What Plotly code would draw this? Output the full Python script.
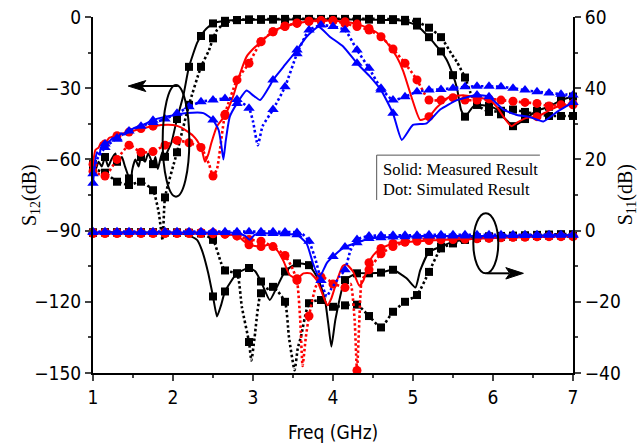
import plotly.graph_objects as go

# ---------------- data ----------------
freq_s12_meas_black = [1.0,1.03,1.07,1.11,1.15,1.19,1.23,1.28,1.3,1.36,1.4,1.45,1.47,1.49,1.53,1.57,1.6,1.65,1.69,1.75,1.78,1.81,1.84,1.87,1.9,1.94,1.98,2.05,2.13,2.2,2.3,2.35,2.4,2.5,2.65,2.8,2.95,3.1,3.25,3.4,3.55,3.7,3.85,4.0,4.15,4.3,4.45,4.6,4.75,4.9,5.05,5.2,5.3,5.35,5.42,5.5,5.55,5.6,5.65,5.75,5.8,5.95,6.05,6.1,6.17,6.25,6.36,6.4,6.55,6.7,6.85,7.0]
s12_meas_black = [-62,-64.5,-61,-63,-59,-63,-60,-57.5,-61,-59,-63,-68,-71.5,-64.5,-60,-63,-59,-61,-57.5,-62,-59,-64,-60,-56.8,-58.9,-56,-53,-43,-33,-21,-11,-8,-5.5,-2.7,-1.6,-1.3,-1.2,-1.2,-1.1,-1.1,-1.0,-1.0,-1.0,-1.0,-1.0,-1.1,-1.1,-1.2,-1.3,-1.8,-3.6,-8.5,-12.5,-14.5,-18,-24.5,-30,-39,-42,-37.8,-37,-37.5,-39,-41,-43.5,-46,-44,-43,-39.5,-37.8,-35,-33.5]

freq_s12_sim_black = [1.0,1.15,1.3,1.45,1.6,1.75,1.82,1.87,1.9,2.05,2.2,2.35,2.45,2.5,2.55,2.65,2.8,2.95,3.1,3.25,3.4,3.55,3.7,3.85,4.0,4.15,4.3,4.45,4.6,4.75,4.9,5.05,5.2,5.35,5.48,5.55,5.65,5.72,5.8,5.95,6.1,6.25,6.4,6.55,6.7,6.85,7.0]
s12_sim_black = [-64,-65.6,-69.4,-70.8,-69.4,-73,-82,-94,-76,-57,-37,-21,-14,-9,-5.5,-2.5,-1.3,-1.0,-0.9,-0.9,-0.8,-0.8,-0.8,-0.8,-0.8,-0.8,-0.8,-0.8,-0.8,-0.9,-1.2,-2.0,-4.5,-8.5,-15.5,-19,-25.5,-32,-37,-40,-39.5,-39,-40,-41,-41.7,-41.7,-41.7]

freq_s12_meas_red = [1.0,1.03,1.07,1.1,1.15,1.2,1.3,1.38,1.45,1.6,1.75,1.85,2.0,2.1,2.17,2.25,2.3,2.36,2.4,2.44,2.48,2.55,2.65,2.75,2.84,2.92,3.0,3.1,3.25,3.4,3.55,3.7,3.85,4.0,4.15,4.3,4.45,4.59,4.7,4.8,4.88,4.98,5.09,5.2,5.3,5.46,5.63,5.8,5.96,6.05,6.13,6.23,6.3,6.42,6.55,6.67,6.8,7.0]
s12_meas_red = [-62,-56,-55,-53,-53.5,-51,-50,-49,-48.5,-47,-46,-45.5,-45.5,-46.5,-48,-50,-52,-56,-61,-58,-53,-46,-41.5,-33.6,-23.7,-16.7,-13.5,-10.4,-6.2,-3.8,-2.7,-1.8,-1.5,-1.6,-2.0,-3.0,-4.8,-7.6,-12,-17,-23,-33.6,-43.4,-42,-38,-33.6,-33,-34,-35,-38,-42,-46,-44.5,-42.5,-42,-40,-37.8,-37]

freq_s12_sim_red = [1.0,1.15,1.3,1.45,1.6,1.75,1.9,2.05,2.2,2.35,2.45,2.5,2.55,2.65,2.8,2.95,3.1,3.25,3.4,3.55,3.7,3.85,4.0,4.15,4.3,4.45,4.6,4.75,4.9,5.05,5.2,5.35,5.5,5.65,5.8,5.95,6.1,6.25,6.4,6.55,6.7,6.85,7.0]
s12_sim_red = [-65,-67,-60,-54,-57,-56.7,-54,-52,-53,-55,-62,-67,-64,-41,-26.5,-19.5,-10.4,-6.2,-4,-2.5,-1.8,-1.5,-1.5,-2.8,-4,-5.5,-8.3,-13.5,-19.5,-26.5,-35,-35,-34,-35,-35,-34.5,-35,-35.5,-36,-36.4,-37.5,-37,-36.5]

freq_s12_meas_blue = [1.0,1.03,1.05,1.08,1.1,1.15,1.2,1.25,1.3,1.35,1.4,1.5,1.62,1.75,1.87,2.0,2.17,2.38,2.5,2.57,2.6,2.63,2.66,2.71,2.8,2.92,3.0,3.09,3.21,3.25,3.38,3.55,3.67,3.82,3.96,4.13,4.3,4.46,4.6,4.75,4.86,5.0,5.17,5.34,5.55,5.8,5.95,6.13,6.3,6.45,6.63,6.8,7.0]
s12_meas_blue = [-70,-60,-57,-58,-55,-53.5,-52.5,-51,-51.5,-49,-49.5,-47,-45.5,-43.5,-42.3,-41.5,-40.5,-40.5,-43.4,-47.6,-53,-60,-52,-42,-36.4,-31,-33,-35,-29,-26.5,-21,-13.9,-8.3,-4.1,-8.3,-12.5,-19.5,-25,-30.8,-40.6,-51.8,-45.5,-44.8,-39,-35,-32.9,-33.6,-39,-41.3,-42,-44,-40,-36]

freq_s12_sim_blue = [1.0,1.05,1.15,1.3,1.45,1.6,1.75,1.9,2.05,2.2,2.35,2.5,2.65,2.8,2.95,3.0,3.06,3.12,3.25,3.4,3.55,3.7,3.85,4.0,4.15,4.3,4.45,4.6,4.75,4.9,5.05,5.2,5.35,5.5,5.65,5.8,5.95,6.1,6.25,6.4,6.55,6.7,6.85,7.0]
s12_sim_blue = [-66,-60,-55,-51,-48,-46,-44.5,-43,-40.6,-37.8,-35.7,-35,-34.3,-34.8,-38.5,-44,-54,-46,-39,-29.4,-15.5,-5.5,-3.4,-4,-5.5,-13.9,-21.6,-30,-35,-33.6,-31.5,-30.8,-30.5,-30,-29.4,-29.2,-29.2,-29.4,-30,-30.8,-31.5,-32,-32.5,-32.9]

freq_s11_meas_black = [1.0,1.15,1.3,1.45,1.6,1.75,1.9,2.05,2.17,2.3,2.36,2.44,2.5,2.55,2.6,2.65,2.8,2.95,3.03,3.1,3.21,3.3,3.4,3.55,3.7,3.82,3.9,3.94,3.98,4.03,4.15,4.3,4.45,4.6,4.75,4.92,5.03,5.09,5.2,5.35,5.5,5.65,5.8,5.95,6.1,6.25,6.4,6.55,6.7,6.85,7.0]
s11_meas_black = [-0.6,-0.5,-0.5,-0.5,-0.5,-0.5,-0.5,-0.6,-1.2,-2.6,-5.4,-11.9,-18.5,-24.1,-21,-17.1,-12,-10.5,-11.5,-14.3,-19.5,-15.8,-11.5,-9.2,-9.7,-13.9,-19.5,-26,-32.6,-25,-13.9,-12,-12,-11.8,-11,-13.4,-16,-11.2,-6,-4.5,-3.1,-2.5,-2.0,-1.9,-1.8,-1.7,-1.6,-1.5,-1.4,-1.4,-1.3]

freq_s11_sim_black = [1.0,1.15,1.3,1.45,1.6,1.75,1.9,2.05,2.2,2.35,2.5,2.6,2.65,2.8,2.86,2.95,2.98,3.02,3.1,3.25,3.4,3.45,3.52,3.56,3.6,3.7,3.85,4.0,4.15,4.3,4.45,4.6,4.75,4.9,5.05,5.2,5.35,5.5,5.65,5.8,5.95,6.1,6.25,6.4,6.55,6.7,6.85,7.0]
s11_sim_black = [-0.5,-0.5,-0.5,-0.5,-0.5,-0.5,-0.5,-0.5,-0.6,-0.8,-2.6,-9,-11.2,-12.1,-21.4,-31.3,-36.5,-30,-17.6,-15.8,-20,-30,-39.2,-33,-29.8,-20.4,-19.5,-21.4,-21,-20.8,-24,-27.2,-22.8,-20,-18.1,-11.6,-5,-3.6,-2.6,-2.0,-1.6,-1.5,-1.4,-1.3,-1.2,-1.1,-1.0,-1.0]

freq_s11_meas_red = [1.0,1.15,1.3,1.45,1.6,1.75,1.9,2.05,2.2,2.35,2.5,2.65,2.8,2.95,3.1,3.2,3.3,3.38,3.46,3.55,3.63,3.72,3.8,3.88,3.93,3.98,4.05,4.12,4.17,4.25,4.33,4.38,4.45,4.5,4.6,4.75,4.9,5.05,5.2,5.35,5.5,5.65,5.8,5.95,6.1,6.25,6.4,6.55,6.7,6.85,7.0]
s11_meas_red = [-0.8,-0.8,-0.8,-0.8,-0.8,-0.8,-0.8,-0.8,-0.8,-0.8,-0.9,-1.0,-1.5,-4,-4.5,-4,-5.5,-8.5,-12.5,-13.5,-12,-12,-14,-18.5,-21,-19,-14,-10,-9.5,-11.5,-15.5,-14,-9,-7,-5,-3.6,-3.2,-3,-2.8,-2.6,-2.5,-2.4,-2.3,-2.2,-2.0,-1.9,-1.8,-1.7,-1.6,-1.6,-1.5]

freq_s11_sim_red = [1.0,1.15,1.3,1.45,1.6,1.75,1.9,2.05,2.2,2.35,2.5,2.65,2.8,2.95,3.1,3.25,3.4,3.48,3.55,3.59,3.62,3.66,3.7,3.78,3.85,3.95,4.0,4.08,4.15,4.22,4.27,4.3,4.33,4.36,4.45,4.6,4.75,4.9,5.05,5.2,5.35,5.5,5.65,5.8,5.95,6.1,6.25,6.4,6.55,6.7,6.85,7.0]
s11_sim_red = [-0.5,-0.5,-0.5,-0.5,-0.5,-0.5,-0.5,-0.5,-0.5,-0.5,-0.6,-1.0,-1.5,-2.5,-3,-4.5,-7,-10,-14,-25,-38,-30,-24,-16,-13,-14,-15,-15.5,-16,-15,-25,-39.3,-25,-14,-11,-6.5,-4.5,-3.2,-2.5,-2.2,-2.0,-2.0,-1.9,-1.9,-1.8,-1.8,-1.8,-1.8,-1.7,-1.7,-1.7,-1.7]

freq_s11_meas_blue = [1.0,1.15,1.3,1.45,1.6,1.75,1.9,2.05,2.2,2.35,2.5,2.65,2.8,2.9,2.96,3.02,3.1,3.25,3.4,3.55,3.67,3.75,3.82,3.86,3.92,4.0,4.15,4.3,4.45,4.6,4.75,4.9,5.05,5.2,5.35,5.5,5.65,5.8,5.95,6.1,6.25,6.4,6.55,6.7,6.85,7.0]
s11_meas_blue = [-0.5,-0.5,-0.5,-0.5,-0.5,-0.5,-0.5,-0.5,-0.5,-0.5,-0.5,-0.5,-0.6,-1.5,-2.6,-1.2,-0.8,-0.8,-0.9,-1.2,-3.6,-9.2,-12.9,-12,-9.2,-7.3,-4.6,-3.4,-2.2,-2.0,-1.8,-1.7,-1.6,-1.5,-1.5,-1.5,-1.5,-1.5,-1.5,-1.5,-1.4,-1.4,-1.4,-1.3,-1.3,-1.3]

freq_s11_sim_blue = [1.0,1.15,1.3,1.45,1.6,1.75,1.9,2.05,2.2,2.35,2.5,2.65,2.8,2.95,3.1,3.25,3.4,3.55,3.62,3.7,3.78,3.85,3.92,3.98,4.08,4.15,4.22,4.3,4.45,4.6,4.75,4.9,5.05,5.2,5.35,5.5,5.65,5.8,5.95,6.1,6.25,6.4,6.55,6.7,6.85,7.0]
s11_sim_blue = [-0.3,-0.3,-0.3,-0.3,-0.3,-0.3,-0.3,-0.3,-0.3,-0.3,-0.3,-0.3,-0.3,-0.3,-0.3,-0.3,-0.4,-0.5,-1.0,-3.0,-8,-14,-18.5,-16.3,-13,-11,-5.5,-2.5,-1.5,-1.4,-1.3,-1.3,-1.3,-1.2,-1.2,-1.2,-1.2,-1.2,-1.2,-1.2,-1.2,-1.2,-1.2,-1.2,-1.2,-1.2]

x_ticks = [1, 2, 3, 4, 5, 6, 7]
s12_ticks = [0, -30, -60, -90, -120, -150]
s11_ticks = [60, 40, 20, 0, -20, -40]

# ---------------- figure ----------------
MARK_STEP = 0.15


def on_grid(v):
    k = (v - 1.0) / MARK_STEP
    return abs(k - round(k)) < 0.02


fig = go.Figure()

series = [
    (freq_s12_meas_black, s12_meas_black, "y", "black", "square", "solid"),
    (freq_s12_sim_black, s12_sim_black, "y", "black", "square", "dot"),
    (freq_s11_meas_black, s11_meas_black, "y2", "black", "square", "solid"),
    (freq_s11_sim_black, s11_sim_black, "y2", "black", "square", "dot"),
    (freq_s12_meas_red, s12_meas_red, "y", "#ff0000", "circle", "solid"),
    (freq_s12_sim_red, s12_sim_red, "y", "#ff0000", "circle", "dot"),
    (freq_s11_meas_red, s11_meas_red, "y2", "#ff0000", "circle", "solid"),
    (freq_s11_sim_red, s11_sim_red, "y2", "#ff0000", "circle", "dot"),
    (freq_s12_meas_blue, s12_meas_blue, "y", "#0000ff", "triangle-up", "solid"),
    (freq_s12_sim_blue, s12_sim_blue, "y", "#0000ff", "triangle-up", "dot"),
    (freq_s11_meas_blue, s11_meas_blue, "y2", "#0000ff", "triangle-up", "solid"),
    (freq_s11_sim_blue, s11_sim_blue, "y2", "#0000ff", "triangle-up", "dot"),
]

for xs, ys, yax, col, sym, style in series:
    if style == "solid":
        line = dict(color=col, width=2, shape="spline", smoothing=0.5)
    else:
        line = dict(color=col, width=2.6, dash="2.5px,2.5px", shape="spline", smoothing=0.5)
    fig.add_trace(go.Scatter(x=xs, y=ys, yaxis=yax, mode="lines", line=line,
                             showlegend=False, hoverinfo="skip"))
    mx = [a for a in xs if on_grid(a)]
    my = [b for a, b in zip(xs, ys) if on_grid(a)]
    size = 8 if sym == "square" else (9 if sym == "circle" else 10)
    fig.add_trace(go.Scatter(x=mx, y=my, yaxis=yax, mode="markers",
                             marker=dict(symbol=sym, size=size, color=col, line=dict(width=0)),
                             cliponaxis=False, showlegend=False, hoverinfo="skip"))

sans = "DejaVu Sans Condensed, DejaVu Sans"
serif = "Liberation Serif, Times New Roman, serif"
tickfont = dict(family=sans, size=19, color="black")

common = dict(showline=True, linewidth=2, linecolor="black", showgrid=False, zeroline=False,
              tickwidth=2, ticklen=6, automargin=False, ticklabeloverflow="allow")

fig.update_layout(
    width=641, height=446,
    margin=dict(l=93, r=68, t=17, b=73, autoexpand=False),
    paper_bgcolor="white", plot_bgcolor="white",
    xaxis=dict(range=[1, 7], tickvals=x_ticks, ticks="outside", tickfont=tickfont,
               minor=dict(dtick=0.5, ticks="outside", ticklen=3, tickwidth=2, showgrid=False),
               **common),
    xaxis2=dict(range=[1, 7], overlaying="x", side="top", anchor="y", tickvals=x_ticks,
                ticks="inside", showticklabels=False,
                minor=dict(dtick=0.5, ticks="inside", ticklen=3, tickwidth=2, showgrid=False),
                **common),
    yaxis=dict(range=[-150, 0], tickvals=s12_ticks, ticks="outside", tickfont=tickfont,
               minor=dict(dtick=15, ticks="outside", ticklen=3, tickwidth=2, showgrid=False),
               **common),
    yaxis2=dict(range=[-40, 60], tickvals=s11_ticks, overlaying="y", side="right", anchor="x",
                ticks="outside", tickfont=tickfont,
                minor=dict(dtick=10, ticks="outside", ticklen=3, tickwidth=2, showgrid=False),
                **common),
)

# axis titles
fig.add_annotation(x=-0.131, y=0.5, xref="paper", yref="paper", text="S<sub>12</sub>(dB)",
                   textangle=-90, showarrow=False, xanchor="center", yanchor="middle",
                   font=dict(family=serif, size=20, color="black"))
fig.add_annotation(x=1.111, y=0.5, xref="paper", yref="paper", text="S<sub>11</sub>(dB)",
                   textangle=-90, showarrow=False, xanchor="center", yanchor="middle",
                   font=dict(family=serif, size=20, color="black"))
fig.add_annotation(x=0.5, y=-0.166, xref="paper", yref="paper", text="Freq (GHz)",
                   showarrow=False, xanchor="center", yanchor="middle",
                   font=dict(family=sans, size=19, color="black"))

# ellipses around the curve groups
fig.add_shape(type="circle", xref="x", yref="y", x0=1.871, x1=2.204, y0=-75.7, y1=-28.6,
              line=dict(color="black", width=2))
fig.add_shape(type="circle", xref="x", yref="y2", x0=5.754, x1=6.066, y0=-12.0, y1=4.9,
              line=dict(color="black", width=2))

# arrows (shaft + filled head)
fig.add_shape(type="line", xref="x", yref="y", x0=2.06, x1=1.6, y0=-29.1, y1=-29.1,
              line=dict(color="black", width=2))
fig.add_shape(type="path", xref="x", yref="y", path="M 1.44 -29.1 L 1.66 -26.8 L 1.61 -29.1 L 1.66 -31.4 Z",
              fillcolor="black", line=dict(color="black", width=1))
fig.add_shape(type="line", xref="x", yref="y2", x0=5.92, x1=6.2, y0=-12.0, y1=-12.0,
              line=dict(color="black", width=2))
fig.add_shape(type="path", xref="x", yref="y2", path="M 6.38 -12 L 6.16 -10.4 L 6.21 -12 L 6.16 -13.6 Z",
              fillcolor="black", line=dict(color="black", width=1))

# note box
fig.add_shape(type="line", xref="paper", yref="paper", x0=0.591, x1=0.931, y0=0.612, y1=0.612,
              line=dict(color="#555555", width=1))
fig.add_shape(type="line", xref="paper", yref="paper", x0=0.591, x1=0.591, y0=0.612, y1=0.486,
              line=dict(color="#555555", width=1))
fig.add_annotation(x=0.599, y=0.572, xref="paper", yref="paper", text="Solid: Measured Result",
                   showarrow=False, xanchor="left", yanchor="middle",
                   font=dict(family=serif, size=16.5, color="black"))
fig.add_annotation(x=0.599, y=0.516, xref="paper", yref="paper", text="Dot: Simulated Result",
                   showarrow=False, xanchor="left", yanchor="middle",
                   font=dict(family=serif, size=16.5, color="black"))

# remove the browser's default 8px body margin so the figure fills the window exactly
fig.write_html("out.html", config={"displayModeBar": False, "staticPlot": True},
               post_script="document.body.style.margin='0';document.body.style.overflow='hidden';")
